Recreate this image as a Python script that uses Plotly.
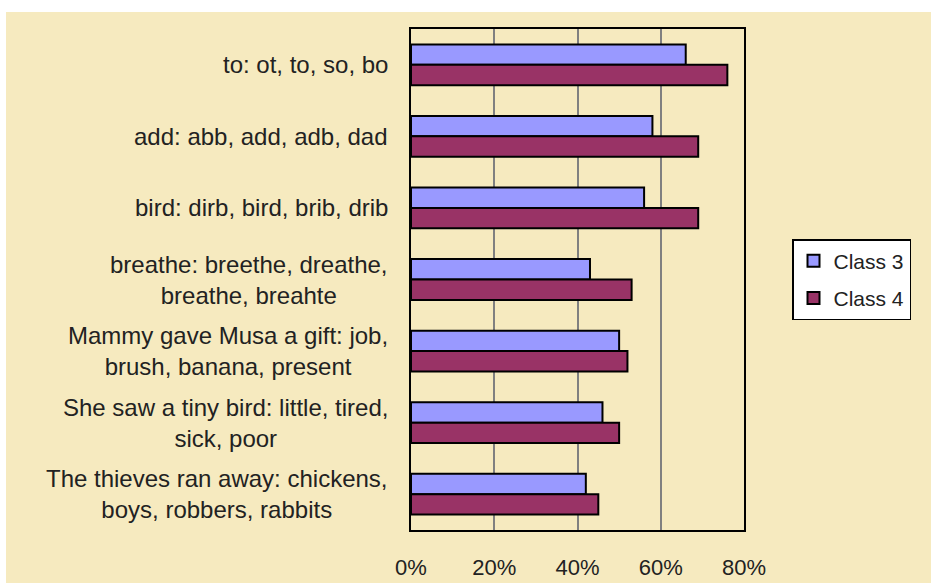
import plotly.graph_objects as go

categories = [
    "to: ot, to, so, bo",
    "add: abb, add, adb, dad",
    "bird: dirb, bird, brib, drib",
    "breathe: breethe, dreathe,<br>breathe, breahte",
    "Mammy gave Musa a gift: job,<br>brush, banana, present",
    "She saw a tiny bird: little, tired,<br>sick, poor",
    "The thieves ran away: chickens,<br>boys, robbers, rabbits",
]
class3 = [0.66, 0.58, 0.56, 0.43, 0.50, 0.46, 0.42]
class4 = [0.76, 0.69, 0.69, 0.53, 0.52, 0.50, 0.45]
series_names = ["Class 3", "Class 4"]
x_ticks = [0, 0.2, 0.4, 0.6, 0.8]
x_ticktext = ["0%", "20%", "40%", "60%", "80%"]

FONT = "Liberation Sans, Arial, sans-serif"
BEIGE = "#F6EABF"
TXT = "#222222"

fig = go.Figure()
fig.add_trace(go.Bar(y=categories, x=class3, name=series_names[0], orientation="h",
                     legendgroup="c3",
                     marker=dict(color="#9999FF", line=dict(color="#000000", width=2))))
fig.add_trace(go.Bar(y=categories, x=class4, name=series_names[1], orientation="h",
                     legendgroup="c4",
                     marker=dict(color="#993366", line=dict(color="#000000", width=2))))

L, R, T, B = 411, 187, 29, 53
W, H = 931, 583
pw, ph = W - L - R, H - T - B

for c in categories:
    fig.add_annotation(x=(390 - L) / pw, xref="paper", y=c, yref="y", text=c,
                       xanchor="right", align="center", showarrow=False,
                       font=dict(family=FONT, size=24, color=TXT))

# beige chart-area background (image has a thin white strip at top/left)
fig.add_shape(type="rect", xref="paper", yref="paper",
              x0=(6 - L) / pw, x1=(W + 10 - L) / pw,
              y0=-(B + 10) / ph, y1=(ph + T - 12) / ph,
              fillcolor=BEIGE, line=dict(width=0), layer="below")

fig.update_layout(
    width=W, height=H,
    margin=dict(l=L, r=R, t=T, b=B, pad=0, autoexpand=False),
    paper_bgcolor="white", plot_bgcolor=BEIGE,
    barmode="group", bargap=0.43, bargroupgap=0,
    font=dict(family=FONT, size=22, color=TXT),
    xaxis=dict(range=[0, 0.8], tickvals=x_ticks, ticktext=x_ticktext,
               showgrid=True, gridcolor="#808080", gridwidth=2,
               showline=True, linecolor="black", linewidth=2, mirror=True,
               ticks="", ticklabelstandoff=17, zeroline=False, automargin=False,
               tickfont=dict(family=FONT, size=22, color=TXT)),
    yaxis=dict(autorange="reversed", showticklabels=False, ticks="",
               showline=True, linecolor="black", linewidth=2, mirror=True,
               showgrid=False, automargin=False),
    legend=dict(x=(792 - L) / pw, y=0.5, xanchor="left", yanchor="middle",
                bgcolor="white", bordercolor="black", borderwidth=1.5,
                traceorder="grouped", font=dict(family=FONT, size=21, color=TXT),
                itemwidth=30, tracegroupgap=7),
    showlegend=True,
)

fig.write_html("out.html")
